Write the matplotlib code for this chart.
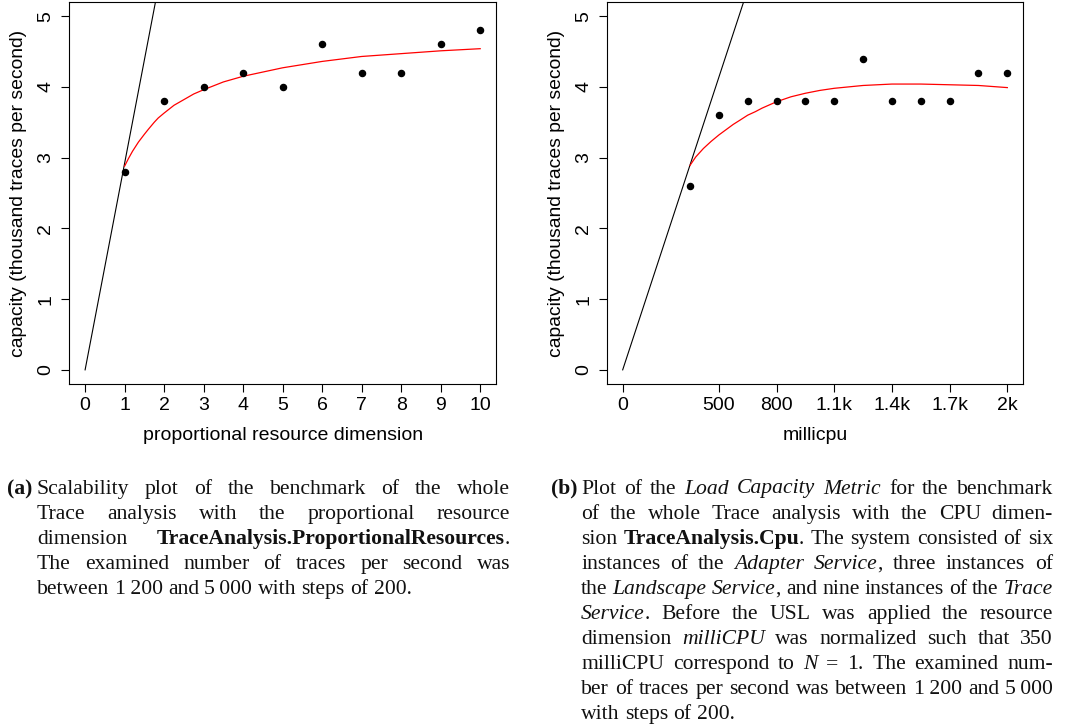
"""
Two-panel USL scalability plot (proportional resources / millicpu) with captions.
"""
import re
import matplotlib
matplotlib.use('Agg')
import matplotlib.pyplot as plt

# ---------- Data (a): proportional resource dimension ----------
prop_x = [1, 2, 3, 4, 5, 6, 7, 8, 9, 10]
prop_y = [2.8, 3.8, 4.0, 4.2, 4.0, 4.6, 4.2, 4.2, 4.6, 4.8]
# fitted USL curve
prop_fit_x = [1, 1.1, 1.2, 1.35, 1.5, 1.6, 1.75, 1.85, 2, 2.25, 2.5, 2.75,
              3, 3.5, 4, 5, 6, 7, 8, 9, 10]
prop_fit_y = [2.88, 2.99, 3.09, 3.22, 3.33, 3.40, 3.50, 3.56, 3.63, 3.74,
              3.82, 3.90, 3.96, 4.07, 4.15, 4.27, 4.36, 4.43, 4.47, 4.51, 4.54]
# linear (ideal) scaling line
prop_lin_x = [0, 2]
prop_lin_y = [0, 5.84]

# ---------- Data (b): millicpu ----------
cpu_x = [350, 500, 650, 800, 950, 1100, 1250, 1400, 1550, 1700, 1850, 2000]
cpu_y = [2.6, 3.6, 3.8, 3.8, 3.8, 3.8, 4.4, 3.8, 3.8, 3.8, 4.2, 4.2]
cpu_fit_x = [350, 380, 420, 460, 500, 540, 575, 610, 650, 690, 725, 800,
             875, 950, 1025, 1100, 1250, 1400, 1550, 1700, 1850, 2000]
cpu_fit_y = [2.89, 3.01, 3.13, 3.23, 3.32, 3.40, 3.47, 3.53, 3.60, 3.65,
             3.70, 3.79, 3.86, 3.91, 3.95, 3.98, 4.02, 4.04, 4.04, 4.03,
             4.02, 3.99]
cpu_lin_x = [0, 700]
cpu_lin_y = [0, 5.79]
cpu_ticks = [0, 500, 800, 1100, 1400, 1700, 2000]
cpu_ticklabels = ['0', '500', '800', '1.1k', '1.4k', '1.7k', '2k']

YLABEL = 'capacity (thousand traces per second)'

W, H = 1077, 728
fig = plt.figure(figsize=(W / 100, H / 100), dpi=100)
fig.patch.set_facecolor('white')

SANS = 'Liberation Sans'


def panel(rect, xs, ys, fx, fy, lx, ly, xlim, xlabel, xticks, xticklabels):
    ax = fig.add_axes(rect)
    ax.plot(lx, ly, color='black', lw=0.8, zorder=2)
    ax.plot(fx, fy, color='red', lw=0.9, zorder=3)
    ax.plot(xs, ys, 'o', color='black', ms=4.4, zorder=4)
    ax.set_xlim(*xlim)
    ax.set_ylim(-0.2, 5.2)
    ax.set_xticks(xticks)
    ax.set_xticklabels(xticklabels, fontsize=14, family=SANS)
    ax.set_yticks([0, 1, 2, 3, 4, 5])
    ax.set_yticklabels(['0', '1', '2', '3', '4', '5'], fontsize=14,
                       family=SANS, rotation=90, va='center')
    ax.tick_params(direction='out', length=6, width=0.8, pad=3)
    ax.tick_params(axis='y', pad=5)
    for sp in ax.spines.values():
        sp.set_linewidth(0.8)
    ax.set_xlabel(xlabel, fontsize=14, family=SANS, labelpad=10)
    ax.set_ylabel(YLABEL, fontsize=13.9, family=SANS, labelpad=7)
    return ax


panel([69.3 / W, 1 - 384 / H, 426.7 / W, 382 / H],
      prop_x, prop_y, prop_fit_x, prop_fit_y, prop_lin_x, prop_lin_y,
      (-0.4, 10.4), 'proportional resource dimension',
      list(range(11)), [str(i) for i in range(11)])

panel([607.3 / W, 1 - 384 / H, 415.4 / W, 382 / H],
      cpu_x, cpu_y, cpu_fit_x, cpu_fit_y, cpu_lin_x, cpu_lin_y,
      (-80, 2080), 'millicpu', cpu_ticks, cpu_ticklabels)

# ---------- Captions (justified by hand) ----------
SERIF = 'Liberation Serif'
CAP_FS = 15.6
LINE_H = 25.1

cap_a = [
    'Scalability plot of the benchmark of the whole',
    'Trace analysis with the proportional resource',
    'dimension {b:TraceAnalysis.ProportionalResources}.',
    'The examined number of traces per second was',
    'between 1\u2009200 and 5\u2009000 with steps of 200.',
]
cap_b = [
    'Plot of the {i:Load} {i:Capacity} {i:Metric} for the benchmark',
    'of the whole Trace analysis with the CPU dimen-',
    'sion {b:TraceAnalysis.Cpu}. The system consisted of six',
    'instances of the {i:Adapter} {i:Service}, three instances of',
    'the {i:Landscape} {i:Service}, and nine instances of the {i:Trace}',
    '{i:Service}. Before the USL was applied the resource',
    'dimension {i:milliCPU} was normalized such that 350',
    'milliCPU correspond to {i:N} = 1. The examined num-',
    'ber of traces per second was between 1\u2009200 and 5\u2009000',
    'with steps of 200.',
]

renderer = fig.canvas.get_renderer()
STYLE = {'': dict(), 'b': dict(fontweight='bold'), 'i': dict(style='italic')}


def put(x, y, s, st):
    return fig.text(x / W, 1 - y / H, s, fontsize=CAP_FS, family=SERIF,
                    va='baseline', ha='left', color='#111111', **STYLE[st])


def width(s, st):
    t = put(0, 0, s, st)
    w = t.get_window_extent(renderer).width
    t.remove()
    return w


def pieces(word):
    out = []
    for st, inner, plain in re.findall(r'\{([bi]):([^}]*)\}|([^{]+)', word):
        out.append((inner, st) if st else (plain, ''))
    return out


def caption(label, lines, x0, x1, y0):
    put(x0 - 30, y0, label, 'b')
    space = width('a a', '') - 2 * width('a', '')
    for k, line in enumerate(lines):
        y = y0 + k * LINE_H
        words = [pieces(w) for w in line.split(' ')]
        wws = [sum(width(s, st) for s, st in w) for w in words]
        last = k == len(lines) - 1
        gap = space if last or len(words) < 2 else \
            (x1 - x0 - sum(wws)) / (len(words) - 1)
        x = x0
        for w, ww in zip(words, wws):
            xx = x
            for s, st in w:
                put(xx, y, s, st)
                xx += width(s, st)
            x += ww + gap


caption('(a)', cap_a, 37, 510, 494)
caption('(b)', cap_b, 581, 1053, 493.5)

fig.savefig('out.png', dpi=100, facecolor='white')
